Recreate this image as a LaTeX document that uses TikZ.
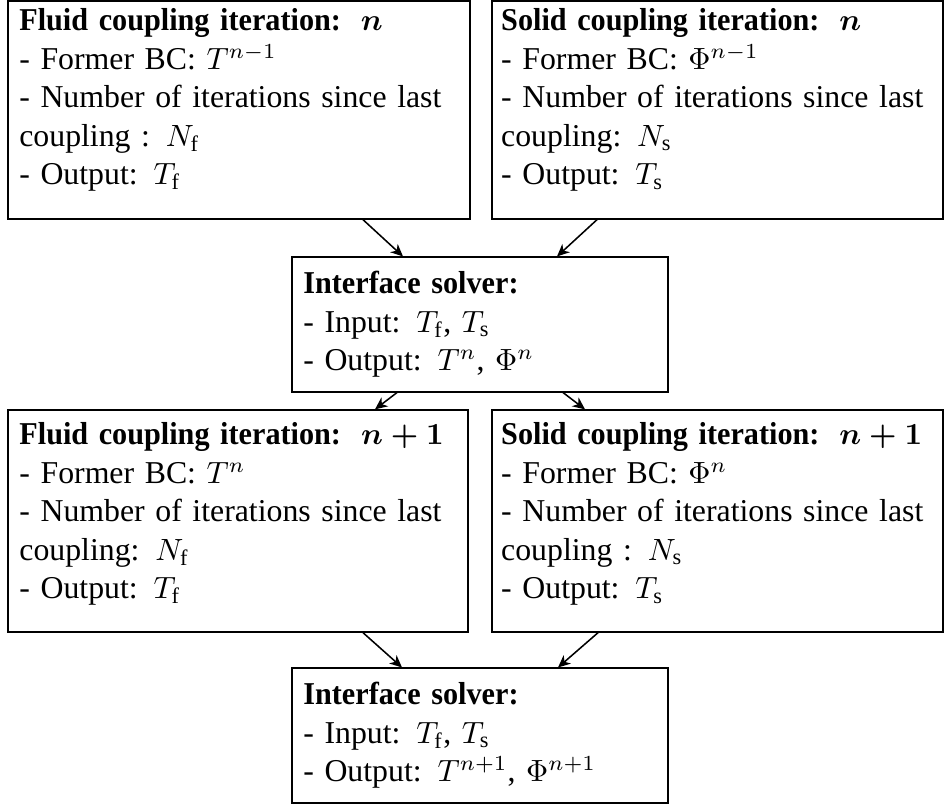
\documentclass[tikz,border=0pt]{standalone}
\usepackage{amsmath}
\usepackage{bm}
\usepackage{fontspec}
\setmainfont{Liberation Serif}[BoldFeatures={FakeStretch=0.95}]
\usetikzlibrary{calc,arrows.meta}

\tikzset{
	box/.style={draw, rectangle, align=left, inner ysep=2pt, inner xsep=3.7pt,
		font=\fontsize{10.35}{12.5}\selectfont},
	link/.style={-{Stealth[length=4pt,width=3.6pt,inset=1.2pt]}, line width=0.5pt}
}
% extra depth under the last line of a box
\newcommand{\padA}{\rule[-8.7pt]{0pt}{8.7pt}}
\newcommand{\padB}{\rule[-6.8pt]{0pt}{6.8pt}}

\begin{document}
\begin{tikzpicture}[x=0.3255pt, y=0.3255pt]
	\useasboundingbox (0,0) rectangle (944,807);
	% Coupling iteration n
	\node[box, text width=143pt, minimum height=71pt] (fluidA) at (239,697) {%
		\mbox{\textbf{Fluid coupling iteration:}\hspace{6.5pt}$\bm{n}$}\\
		- Former BC: $T^{n-1}$\\
		\mbox{- Number of iterations since last}\\
		coupling : $N_{\mathrm{f}}$\\
		- Output: $T_{\mathrm{f}}$\padA};
	\node[box, inner xsep=3pt, text width=140.8pt, minimum height=71pt] (solidA) at (717.5,697) {%
		\mbox{\textbf{Solid coupling iteration:}\hspace{6.5pt}$\bm{n}$}\\
		- Former BC: $\Phi^{n-1}$\\
		\mbox{- Number of iterations since last}\\
		coupling: $N_{\mathrm{s}}$\\
		- Output: $T_{\mathrm{s}}$\padA};
	% Interface solver n
	\node[box, text width=115pt, minimum height=43.9pt] (ifaceA) at (480,482.5) {%
		\textbf{Interface solver:}\\
		- Input: $T_{\mathrm{f}}$, $T_{\mathrm{s}}$\\
		- Output: $T^{n}$, $\Phi^{n}$};
	% Coupling iteration n+1
	\node[box, text width=142.3pt, minimum height=72.3pt] (fluidB) at (238,286) {%
		\mbox{\textbf{Fluid coupling iteration:}\hspace{6.5pt}{\boldmath$n+1$}}\\
		- Former BC: $T^{n}$\\
		\mbox{- Number of iterations since last}\\
		coupling: $N_{\mathrm{f}}$\\
		- Output: $T_{\mathrm{f}}$\padB};
	\node[box, inner xsep=3pt, text width=140.8pt, minimum height=72.3pt] (solidB) at (717.5,286) {%
		\mbox{\textbf{Solid coupling iteration:}\hspace{6.5pt}{\boldmath$n+1$}}\\
		- Former BC: $\Phi^{n}$\\
		\mbox{- Number of iterations since last}\\
		coupling : $N_{\mathrm{s}}$\\
		- Output: $T_{\mathrm{s}}$\padB};
	% Interface solver n+1
	\node[box, text width=115pt, minimum height=43.9pt] (ifaceB) at (480,71.5) {%
		\textbf{Interface solver:}\\
		- Input: $T_{\mathrm{f}}$, $T_{\mathrm{s}}$\\
		- Output: $T^{n+1}$, $\Phi^{n+1}$};
	% Arrows
	\draw[link] ($(fluidA.south)+(124,0)$) -- ($(ifaceA.north)+(-77,0)$);
	\draw[link] ($(solidA.south)+(-120.5,0)$) -- ($(ifaceA.north)+(77,0)$);
	\draw[link] ($(ifaceA.south)+(-83,0)$) -- ($(fluidB.north)+(137,0)$);
	\draw[link] ($(ifaceA.south)+(83,0)$) -- ($(solidB.north)+(-132.5,0)$);
	\draw[link] ($(fluidB.south)+(125,0)$) -- ($(ifaceB.north)+(-78,0)$);
	\draw[link] ($(solidB.south)+(-119.5,0)$) -- ($(ifaceB.north)+(78,0)$);
\end{tikzpicture}
\end{document}
